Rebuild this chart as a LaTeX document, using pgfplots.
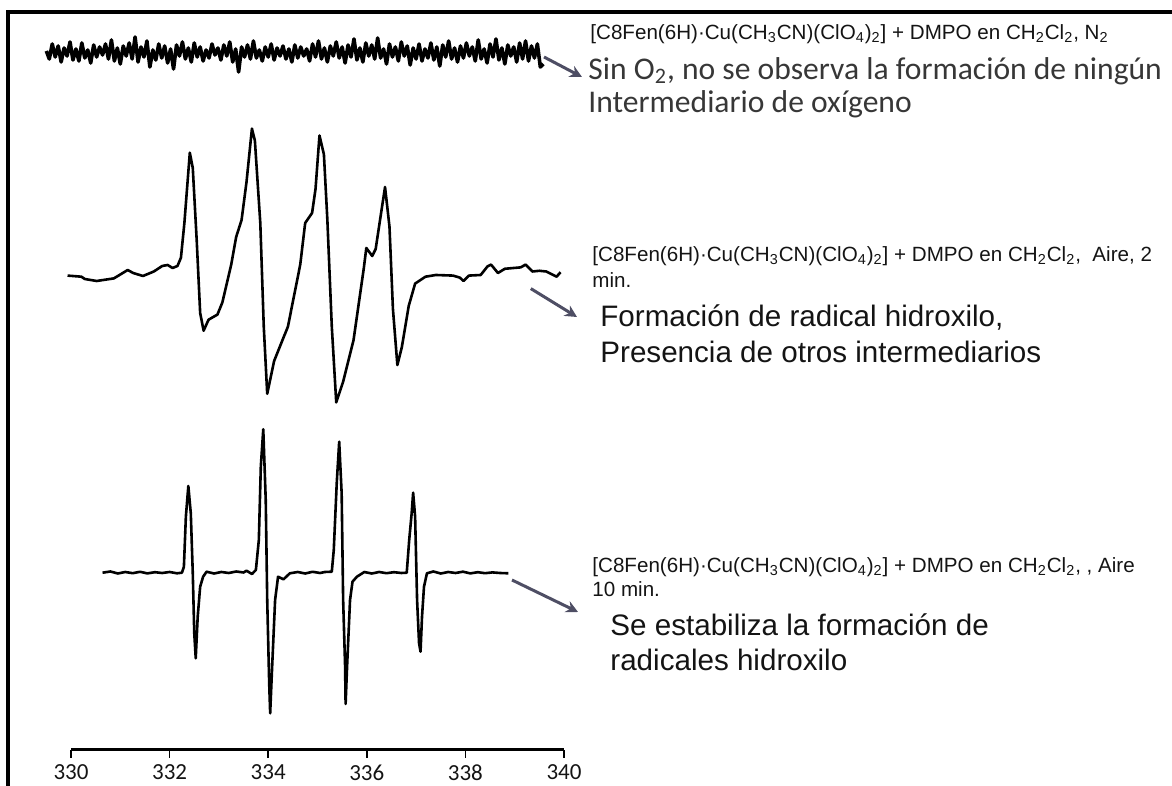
\documentclass[border=0pt]{standalone}
\usepackage{fontspec}
\setmainfont{Liberation Sans}
\newfontfamily\calibri{Carlito}
\usepackage{pgfplots}
\pgfplotsset{compat=1.18}
\usetikzlibrary{arrows.meta}
\definecolor{arrowgray}{RGB}{78,78,100}
\definecolor{txt}{RGB}{20,20,20}

% spectra (x in mT, y in drawing units, each trace with its own offset)
\pgfplotstableread{
x y
329.50 735
329.56 727
329.62 742
329.68 729
329.74 740
329.80 724
329.86 738
329.92 730
329.98 744
330.04 726
330.10 737
330.16 725
330.22 743
330.28 728
330.34 736
330.40 723
330.46 741
330.52 729
330.58 739
330.64 731
330.70 742
330.76 727
330.82 746
330.88 725
330.94 738
331.00 722
331.06 740
331.12 730
331.18 743
331.24 727
331.30 749
331.36 724
331.42 739
331.48 729
331.54 745
331.60 719
331.66 736
331.72 726
331.78 742
331.84 728
331.90 740
331.96 723
332.02 737
332.08 717
332.14 741
332.20 730
332.26 744
332.32 727
332.38 738
332.44 724
332.50 743
332.56 729
332.62 739
332.68 725
332.74 736
332.80 728
332.86 742
332.92 731
332.98 738
333.04 726
333.10 741
333.16 730
333.22 744
333.28 724
333.34 737
333.40 714
333.46 739
333.52 729
333.58 741
333.64 727
333.70 745
333.76 728
333.82 736
333.88 725
333.94 739
334.00 729
334.06 742
334.12 726
334.18 738
334.24 730
334.30 740
334.36 727
334.42 737
334.48 724
334.54 741
334.60 728
334.66 739
334.72 730
334.78 737
334.84 725
334.90 742
334.96 729
335.02 745
335.08 727
335.14 738
335.20 724
335.26 740
335.32 730
335.38 744
335.44 728
335.50 739
335.56 723
335.62 741
335.68 729
335.74 747
335.80 726
335.86 738
335.92 724
335.98 743
336.04 730
336.10 741
336.16 727
336.22 748
336.28 728
336.34 737
336.40 722
336.46 742
336.52 729
336.58 739
336.64 725
336.70 744
336.76 730
336.82 740
336.88 721
336.94 738
337.00 727
337.06 742
337.12 725
337.18 737
337.24 728
337.30 743
337.36 726
337.42 739
337.48 720
337.54 741
337.60 729
337.66 745
337.72 727
337.78 738
337.84 724
337.90 740
337.96 728
338.02 743
338.08 730
338.14 739
338.20 725
338.26 746
338.32 727
338.38 737
338.44 723
338.50 742
338.56 729
338.62 747
338.68 726
338.74 738
338.80 722
338.86 741
338.92 730
338.98 739
339.04 724
339.10 743
339.16 727
339.22 745
339.28 725
339.34 740
339.40 728
339.46 742
339.52 719
339.58 722
}\specnitrogen

\pgfplotstableread{
x y
329.93 510.4
330.21 509.3
330.28 507.0
330.52 505.0
330.87 507.6
331.15 516.0
331.26 513.0
331.46 510.0
331.68 514.5
331.85 520.0
331.96 521.0
332.06 518.0
332.16 520.0
332.23 528.3
332.30 563.0
332.41 633.3
332.47 618.0
332.55 545.5
332.62 473.0
332.69 455.3
332.79 466.3
332.97 471.4
333.07 483.5
333.25 521.4
333.35 549.0
333.46 566.0
333.56 604.0
333.67 657.4
333.73 645.3
333.84 562.7
333.91 459.4
333.98 392.2
334.12 425.0
334.40 459.4
334.65 521.4
334.75 563.0
334.89 573.0
334.96 597.1
335.04 650.5
335.13 631.6
335.20 566.1
335.29 459.4
335.38 383.6
335.52 404.3
335.73 445.6
335.94 518.0
335.99 538.0
336.11 530.0
336.18 537.0
336.29 573.0
336.37 599.0
336.46 559.3
336.53 477.0
336.62 421.0
336.71 438.7
336.85 480.0
336.98 502.4
337.19 509.3
337.40 511.0
337.75 510.4
337.89 508.3
337.96 505.0
338.07 510.4
338.31 511.0
338.45 519.7
338.52 521.4
338.66 513.0
338.80 517.2
338.98 518.0
339.12 518.6
339.22 521.4
339.36 514.5
339.50 515.2
339.64 514.5
339.78 511.0
339.85 509.3
339.93 513.8
}\specairtwo

\pgfplotstableread{
x y
330.64 213.3
330.80 214.5
330.95 212.5
331.10 214.0
331.25 212.8
331.40 214.2
331.55 212.6
331.70 213.8
331.85 213.0
332.00 214.0
332.15 212.7
332.25 213.3
332.29 219.3
332.33 269.3
332.38 300.0
332.43 272.7
332.47 213.0
332.50 153.0
332.53 127.7
332.57 169.3
332.62 199.3
332.68 209.3
332.75 214.3
332.90 212.5
333.05 214.0
333.20 213.0
333.35 214.5
333.50 213.5
333.56 215.3
333.67 212.0
333.75 216.0
333.81 246.0
333.85 319.3
333.90 356.7
333.95 286.0
333.98 186.0
334.02 102.7
334.04 72.7
334.08 119.3
334.14 186.0
334.20 209.3
334.31 206.7
334.44 212.7
334.60 214.0
334.75 212.5
334.90 214.2
335.05 213.0
335.15 214.0
335.29 214.3
335.33 236.0
335.39 302.7
335.44 344.3
335.49 292.7
335.52 186.0
335.56 119.3
335.57 82.0
335.60 119.3
335.66 186.0
335.71 204.3
335.80 209.3
335.95 214.0
336.10 212.5
336.25 214.0
336.40 212.8
336.55 213.8
336.70 213.0
336.81 213.3
336.86 246.0
336.91 272.7
336.94 293.3
336.98 269.3
337.02 186.0
337.06 142.7
337.09 134.3
337.12 169.3
337.16 199.3
337.22 212.7
337.35 214.5
337.50 212.5
337.65 214.0
337.80 213.0
337.95 214.3
338.10 212.6
338.25 213.8
338.40 212.8
338.55 213.6
338.70 213.0
338.87 212.7
}\specairten

\newcommand{\smallfont}{\fontsize{10.3}{12}\selectfont}
\newcommand{\bigfont}{\fontsize{14.8}{17}\selectfont}
\newcommand{\complexo}{[C8Fen(6H)·Cu(CH\textsubscript{3}CN)(ClO\textsubscript{4})\textsubscript{2}] + DMPO en CH\textsubscript{2}Cl\textsubscript{2},}

\begin{document}
\begin{tikzpicture}[x=1pt,y=1pt]
\useasboundingbox (0,0) rectangle (586,393);
\draw[line width=1.8pt] (4,0) -- (4,387) -- (586,387);

\begin{axis}[
  at={(35.5pt,18pt)}, anchor=south west,
  scale only axis, width=246.5pt, height=360pt,
  xmin=330, xmax=340, ymin=36, ymax=756,
  axis x line=bottom, axis y line=none,
  axis line style={-, line width=1.5pt},
  xtick={330,332,334,336,338,340},
  tick align=outside, major tick length=4pt,
  every tick/.style={black, line width=0.8pt},
  x tick label style={font=\calibri\fontsize{11.5}{12}\selectfont, text=txt},
  /pgf/number format/assume math mode=true,
  /pgf/number format/1000 sep={},
  clip=false,
]
\addplot[black, line width=1.8pt, line join=round, no markers] table {\specnitrogen};
\addplot[black, line width=1.3pt, line join=round, no markers] table {\specairtwo};
\addplot[black, line width=1.3pt, line join=round, no markers] table {\specairten};
\end{axis}

% arrows
\draw[arrowgray, line width=1.5pt, -{Stealth[length=6pt,width=6pt]}] (272,364.5) -- (291,354.5);
\draw[arrowgray, line width=1.5pt, -{Stealth[length=6pt,width=6pt]}] (265.4,248.7) -- (288.5,234.5);
\draw[arrowgray, line width=1.5pt, -{Stealth[length=6pt,width=6pt]}] (256,103) -- (289,87);

% annotations
\node[anchor=west, inner sep=0, text=txt, font=\smallfont] at (295,376) {\complexo\ N\textsubscript{2}};
\node[anchor=west, inner sep=0, text=txt!85, font=\calibri\fontsize{15.8}{18}\selectfont] at (294,357.5) {Sin O\textsubscript{2}, no se observa la formación de ningún};
\node[anchor=west, inner sep=0, text=txt!85, font=\calibri\fontsize{15.8}{18}\selectfont] at (294,341) {Intermediario de oxígeno};

\node[anchor=west, inner sep=0, text=txt, font=\smallfont] at (296,265) {\complexo\ \ Aire, 2};
\node[anchor=west, inner sep=0, text=txt, font=\smallfont] at (296,253) {min.};
\node[anchor=west, inner sep=0, text=txt, font=\bigfont] at (300,234) {Formación de radical hidroxilo,};
\node[anchor=west, inner sep=0, text=txt, font=\bigfont] at (300,217) {Presencia de otros intermediarios};

\node[anchor=west, inner sep=0, text=txt, font=\smallfont] at (296,109.5) {\complexo\ , Aire};
\node[anchor=west, inner sep=0, text=txt, font=\smallfont] at (296,98.5) {10 min.};
\node[anchor=west, inner sep=0, text=txt, font=\bigfont] at (305,80.5) {Se estabiliza la formación de};
\node[anchor=west, inner sep=0, text=txt, font=\bigfont] at (305,63) {radicales hidroxilo};
\end{tikzpicture}
\end{document}
